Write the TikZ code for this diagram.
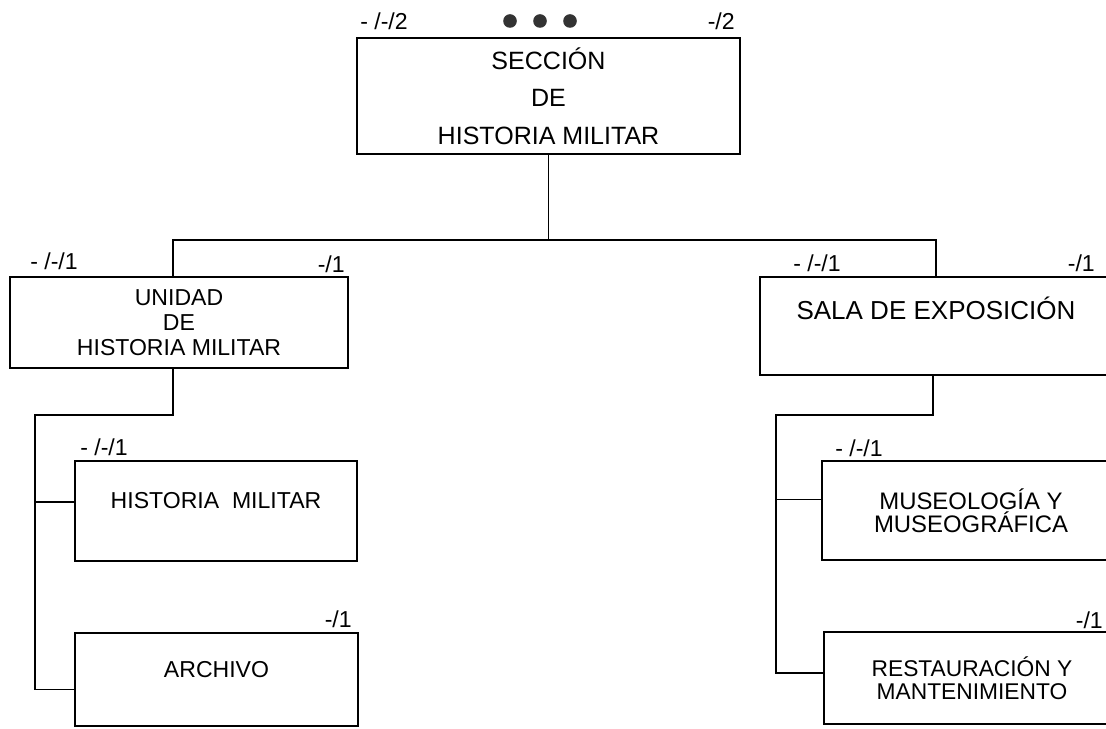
\documentclass[tikz,border=0pt]{standalone}
\usepackage{fontspec}
\setmainfont{Liberation Sans}
\usetikzlibrary{calc}

\begin{document}
\begin{tikzpicture}[
caja/.style={rectangle,draw=black,line width=1.3pt,align=center,inner sep=0pt,
font=\fontsize{16.4}{17.8}\selectfont},
marca/.style={inner sep=0pt,font=\fontsize{16.4}{18}\selectfont},
punto/.style={circle,fill=black!80,inner sep=0pt,minimum size=0.34cm}]

\useasboundingbox (0,0) rectangle (27.65,-18.225);
\clip (0,0) rectangle (27.65,-18.225);

% jefatura
\node[caja,minimum width=9.575cm,minimum height=2.9cm,font=\fontsize{17.8}{26.7}\selectfont](seccion) at (13.7125,-2.4){SECCIÓN\\DE\\HISTORIA MILITAR};
\node[marca,anchor=west](e-sec-1) at (9.0,-0.525){- /-/2};
\node[marca,anchor=east](e-sec-2) at (18.375,-0.525){-/2};
\node[punto](p1) at (12.75,-0.525){};
\node[punto](p2) at (13.5,-0.525){};
\node[punto](p3) at (14.25,-0.525){};

% rama izquierda
\node[caja,minimum width=8.45cm,minimum height=2.275cm](unidad) at (4.475,-8.0625){UNIDAD\\DE\\HISTORIA MILITAR};
\node[marca,anchor=west](e-uni-1) at (0.75,-6.525){- /-/1};
\node[marca,anchor=east](e-uni-2) at (8.625,-6.6){-/1};

\node[caja,minimum width=7.05cm,minimum height=2.5cm,text height=0.41cm,text depth=0.55cm](historia) at (5.4,-12.775){HISTORIA\ \ MILITAR};
\node[marca,anchor=west](e-his-1) at (2.0,-11.18){- /-/1};

\node[caja,minimum width=7.075cm,minimum height=2.325cm,text height=0.41cm,text depth=0.5cm](archivo) at (5.4125,-16.9875){ARCHIVO};
\node[marca,anchor=east](e-arc-1) at (8.8,-15.475){-/1};

% rama derecha
\node[caja,minimum width=8.8cm,minimum height=2.45cm,font=\fontsize{18.5}{20}\selectfont,text height=0.465cm,text depth=0.8cm](sala) at (23.4,-8.15){SALA DE EXPOSICIÓN};
\node[marca,anchor=west](e-sal-1) at (19.825,-6.575){- /-/1};
\node[marca,anchor=east](e-sal-2) at (27.375,-6.575){-/1};

\node[caja,minimum width=7.45cm,minimum height=2.475cm,font=\fontsize{17}{16.6}\selectfont](museo) at (24.275,-12.7625){MUSEOLOGÍA Y\\MUSEOGRÁFICA};
\node[marca,anchor=west](e-mus-1) at (20.875,-11.2){- /-/1};

\node[caja,minimum width=7.4cm,minimum height=2.3cm,font=\fontsize{16.2}{16.6}\selectfont](restauracion) at (24.3,-16.95){RESTAURACIÓN Y\\MANTENIMIENTO};
\node[marca,anchor=east](e-res-1) at (27.575,-15.5){-/1};

\coordinate (espI) at (0.875,-10.375);
\coordinate (espD) at (19.4,-10.375);

\begin{scope}[line width=1.3pt]
\draw (seccion.south) -- ++(0,-2.125) coordinate (bus) -| ([xshift=-0.15cm]unidad.north);
\draw (bus) -| (sala.north);
\draw ([xshift=-0.15cm]unidad.south) |- (espI) |- ([yshift=-0.25cm]archivo.west);
\draw (espI) |- ([yshift=0.225cm]historia.west);
\draw ([xshift=-0.075cm]sala.south) |- (espD) |- ([yshift=0.125cm]restauracion.west);
\draw (espD) |- ([yshift=0.275cm]museo.west);
\end{scope}

\end{tikzpicture}
\end{document}
